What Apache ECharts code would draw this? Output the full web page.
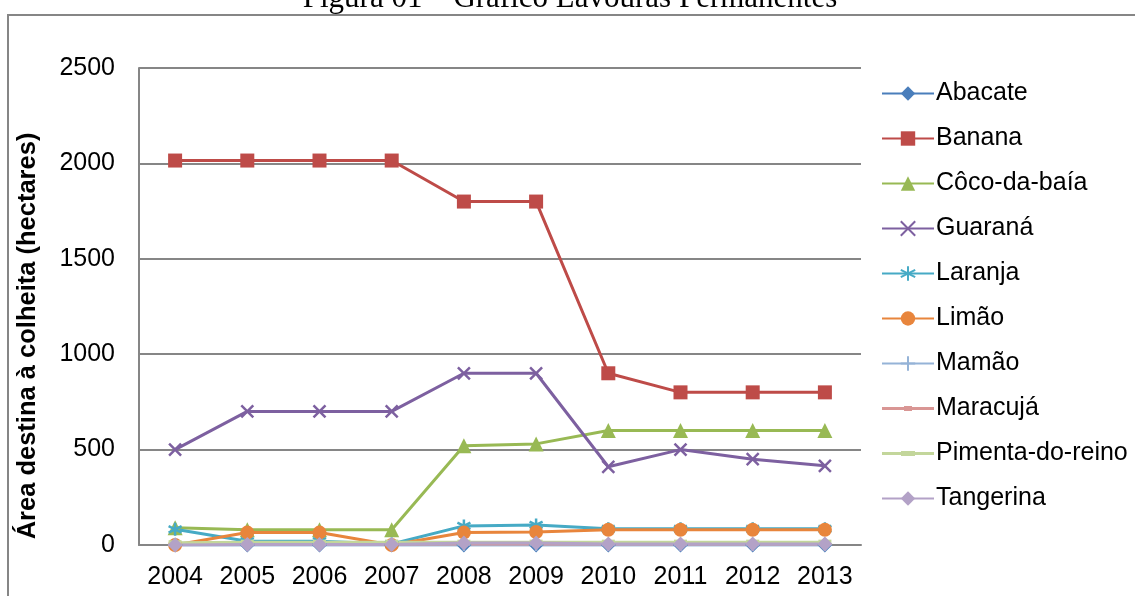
<!DOCTYPE html>
<html>
<head>
<meta charset="utf-8">
<script src="https://cdn.jsdelivr.net/npm/echarts@6/dist/echarts.min.js"></script>
<style>
  html, body { margin: 0; padding: 0; background: #fff; }
  #chart { width: 1135px; height: 596px; }
</style>
</head>
<body>
<div id="chart"></div>
<script>
// Years on the x axis
const years = ['2004', '2005', '2006', '2007', '2008', '2009', '2010', '2011', '2012', '2013'];

// Area (hectares) per crop
const abacate    = [0, 0, 0, 0, 0, 0, 0, 0, 0, 0];
const banana     = [2015, 2015, 2015, 2015, 1800, 1800, 900, 800, 800, 800];
const coco       = [90, 80, 80, 80, 520, 530, 600, 600, 600, 600];
const guarana    = [500, 700, 700, 700, 900, 900, 410, 500, 450, 415];
const laranja    = [82, 20, 20, 5, 100, 105, 85, 85, 85, 85];
const limao      = [0, 65, 65, 0, 65, 68, 80, 80, 80, 80];
const mamao      = [3, 3, 3, 3, 3, 3, 3, 3, 3, 3];
const maracuja   = [5, 5, 5, 5, 5, 5, 5, 5, 5, 5];
const pimenta    = [12, 15, 15, 15, 15, 15, 15, 15, 15, 15];
const tangerina  = [0, 3, 3, 3, 10, 10, 5, 5, 5, 5];

const yTicks = { min: 0, max: 2500, interval: 500 };

const X_PATH = 'path://M0,0L10,10M10,0L0,10';
const STAR_PATH = 'path://M5,0L5,10M0.7,2.5L9.3,7.5M0.7,7.5L9.3,2.5';
const PLUS_PATH = 'path://M5,0L5,10M0,5L10,5';

// legend icons for the dash markers (line + small bar)
const DASH_ICON = 'path://M0,1H52V4H0Z M22,0H30V5H22Z';
const BAR_ICON = 'path://M0,1H52V4H0Z M19,0H33V5H19Z';

const seriesDefs = [
    { name: 'Abacate', data: abacate, color: '#4A7EBB', symbol: 'diamond', size: 15 },
    { name: 'Banana', data: banana, color: '#BE4B48', symbol: 'rect', size: 14 },
    { name: 'Côco-da-baía', data: coco, color: '#98B954', symbol: 'triangle', size: 15 },
    { name: 'Guaraná', data: guarana, color: '#7D60A0', symbol: X_PATH, size: 12, stroke: true },
    { name: 'Laranja', data: laranja, color: '#46AAC5', symbol: STAR_PATH, size: 13, stroke: true },
    { name: 'Limão', data: limao, color: '#E8853C', symbol: 'circle', size: 14 },
    { name: 'Mamão', data: mamao, color: '#95B3D7', symbol: PLUS_PATH, size: 13, stroke: true },
    { name: 'Maracujá', data: maracuja, color: '#D99694', symbol: 'rect', size: [8, 5], icon: DASH_ICON },
    { name: 'Pimenta-do-reino', data: pimenta, color: '#C3D69B', symbol: 'rect', size: [13, 5], icon: BAR_ICON },
    { name: 'Tangerina', data: tangerina, color: '#B3A2C7', symbol: 'diamond', size: 15 }
];

const textColor = '#000000';
const gridColor = '#868686';
const fontFamily = '"Liberation Sans", Arial, sans-serif';

const series = seriesDefs.map(s => ({
    name: s.name,
    type: 'line',
    data: s.data,
    symbol: s.symbol,
    symbolSize: s.size,
    showAllSymbol: true,
    lineStyle: { color: s.color, width: 3 },
    itemStyle: s.stroke
        ? { color: s.color, borderColor: s.color, borderWidth: 2.5 }
        : { color: s.color, borderWidth: 0 },
    emphasis: { disabled: true },
    animation: false
}));

const legendData = seriesDefs.map(s => s.icon ? { name: s.name, icon: s.icon } : s.name);

const chart = echarts.init(document.getElementById('chart'));

chart.setOption({
    backgroundColor: '#ffffff',
    animation: false,
    textStyle: { fontFamily: fontFamily, color: textColor },
    graphic: [
        {
            type: 'rect',
            shape: { x: 8, y: 15, width: 1200, height: 700 },
            style: { fill: 'none', stroke: gridColor, lineWidth: 2 },
            silent: true
        },
        {
            type: 'text',
            x: 570,
            y: 14,
            style: {
                text: 'Figura 01 – Gráfico Lavouras Permanentes',
                font: '31px "Liberation Serif", "Times New Roman", serif',
                fill: '#000',
                align: 'center',
                verticalAlign: 'bottom'
            },
            silent: true
        },
        {
            type: 'text',
            x: 28,
            y: 336,
            rotation: Math.PI / 2,
            style: {
                text: 'Área destina à colheita (hectares)',
                font: 'bold 25.5px "Liberation Sans", Arial, sans-serif',
                fill: '#000',
                align: 'center',
                verticalAlign: 'middle'
            },
            silent: true
        }
    ],
    legend: {
        orient: 'vertical',
        left: 876,
        top: 76,
        itemWidth: 52,
        itemHeight: 18,
        itemGap: 20,
        symbolKeepAspect: true,
        textStyle: { color: textColor, fontSize: 25, lineHeight: 25, fontFamily: fontFamily, padding: [0, 0, 0, -3] },
        data: legendData
    },
    grid: {
        left: 139,
        right: 274,
        top: 68,
        bottom: 51,
        containLabel: false
    },
    xAxis: {
        type: 'category',
        data: years,
        boundaryGap: true,
        axisLine: { lineStyle: { color: gridColor, width: 2 } },
        axisTick: { show: false },
        axisLabel: { color: textColor, fontSize: 25, margin: 20, interval: 0, fontFamily: fontFamily },
        splitLine: { show: false }
    },
    yAxis: {
        type: 'value',
        min: yTicks.min,
        max: yTicks.max,
        interval: yTicks.interval,
        axisLine: { show: true, lineStyle: { color: gridColor, width: 2 } },
        axisTick: { show: false },
        axisLabel: { color: textColor, fontSize: 25, margin: 24, fontFamily: fontFamily, formatter: v => String(v) },
        splitLine: { lineStyle: { color: gridColor, width: 2 } }
    },
    series: series
});
</script>
</body>
</html>
